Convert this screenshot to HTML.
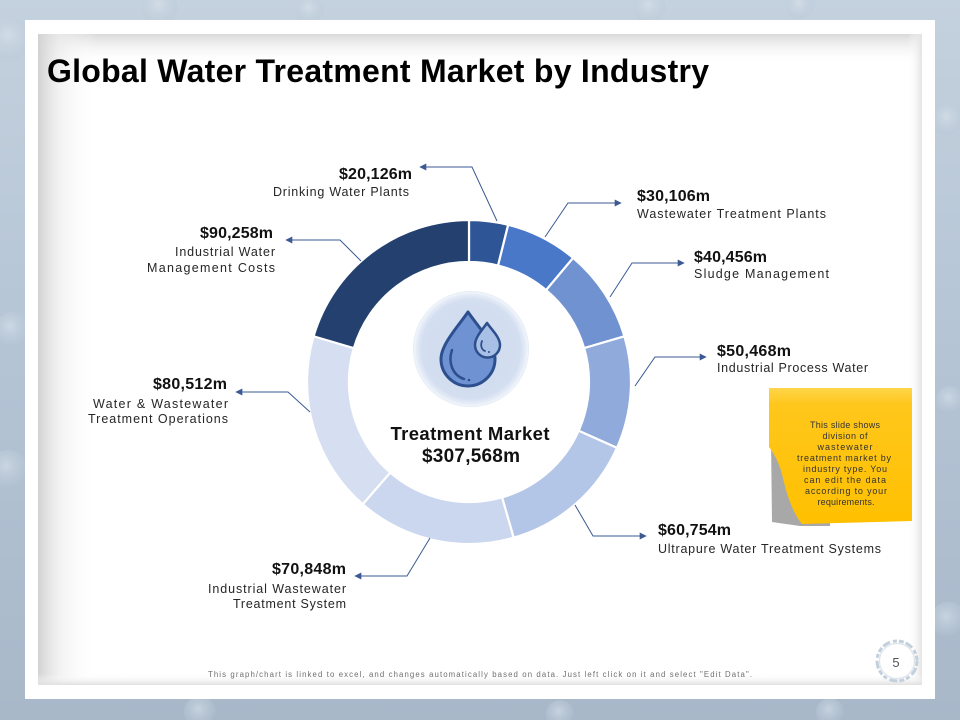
<!DOCTYPE html>
<html><head><meta charset="utf-8"><style>
html,body{margin:0;padding:0;width:960px;height:720px;overflow:hidden;background:#b5c5d6}
svg{display:block}
text{font-family:"Liberation Sans",Arial,sans-serif}
</style></head><body>
<svg width="960" height="720" viewBox="0 0 960 720" xmlns="http://www.w3.org/2000/svg">
<defs>
<linearGradient id="bg" x1="0" y1="0" x2="0" y2="1">
<stop offset="0" stop-color="#c4d1de"/><stop offset="0.5" stop-color="#b4c4d5"/><stop offset="1" stop-color="#a8b8c9"/>
</linearGradient>
<radialGradient id="bub" cx="0.45" cy="0.4" r="0.6">
<stop offset="0" stop-color="#dbe4ed" stop-opacity="0.6"/><stop offset="0.8" stop-color="#bccbd9" stop-opacity="0.3"/><stop offset="1" stop-color="#a9bacb" stop-opacity="0"/>
</radialGradient>
<linearGradient id="gTop" x1="0" y1="0" x2="0" y2="1">
<stop offset="0" stop-color="#d9d9d9"/><stop offset="1" stop-color="#ffffff" stop-opacity="0"/>
</linearGradient>
<linearGradient id="gLeft" x1="0" y1="0" x2="1" y2="0">
<stop offset="0" stop-color="#d2d2d2"/><stop offset="0.35" stop-color="#ececec" stop-opacity="0.7"/><stop offset="1" stop-color="#ffffff" stop-opacity="0"/>
</linearGradient>
<linearGradient id="gRight" x1="0" y1="0" x2="1" y2="0">
<stop offset="0" stop-color="#ffffff" stop-opacity="0"/><stop offset="1" stop-color="#e3e3e3"/>
</linearGradient>
<linearGradient id="gBot" x1="0" y1="0" x2="0" y2="1">
<stop offset="0" stop-color="#ffffff" stop-opacity="0"/><stop offset="1" stop-color="#e0e0e0"/>
</linearGradient>
<radialGradient id="icon" cx="0.5" cy="0.5" r="0.5">
<stop offset="0" stop-color="#cfdbef"/><stop offset="0.85" stop-color="#d3def0"/><stop offset="0.95" stop-color="#e8eef8"/><stop offset="1" stop-color="#dfe7f4"/>
</radialGradient>
<linearGradient id="yel" x1="0" y1="0" x2="0" y2="1">
<stop offset="0" stop-color="#ffd54a"/><stop offset="0.12" stop-color="#ffc71c"/><stop offset="1" stop-color="#ffc000"/>
</linearGradient>
<marker id="ah" viewBox="0 0 10 10" refX="9" refY="5" markerWidth="9" markerHeight="7" markerUnits="userSpaceOnUse" orient="auto">
<path d="M0,0 L10,5 L0,10 Z" fill="#3b5a94"/>
</marker>
</defs>

<!-- background -->
<rect x="0" y="0" width="960" height="720" fill="url(#bg)"/>
<circle cx="10" cy="40" r="22" fill="url(#bub)"/>
<circle cx="12" cy="330" r="18" fill="url(#bub)"/>
<circle cx="8" cy="470" r="20" fill="url(#bub)"/>
<circle cx="160" cy="8" r="18" fill="url(#bub)"/>
<circle cx="310" cy="10" r="14" fill="url(#bub)"/>
<circle cx="650" cy="8" r="16" fill="url(#bub)"/>
<circle cx="800" cy="6" r="14" fill="url(#bub)"/>
<circle cx="948" cy="120" r="16" fill="url(#bub)"/>
<circle cx="950" cy="400" r="14" fill="url(#bub)"/>
<circle cx="948" cy="620" r="18" fill="url(#bub)"/>
<circle cx="200" cy="712" r="16" fill="url(#bub)"/>
<circle cx="560" cy="714" r="14" fill="url(#bub)"/>
<circle cx="830" cy="712" r="14" fill="url(#bub)"/>

<!-- white frame and inner panel -->
<rect x="25" y="20" width="910" height="679" fill="#ffffff"/>
<rect x="38" y="34" width="884" height="651" fill="#ffffff"/>
<rect x="38" y="34" width="884" height="30" fill="url(#gTop)"/>
<rect x="38" y="34" width="60" height="651" fill="url(#gLeft)"/>
<rect x="908" y="34" width="14" height="651" fill="url(#gRight)"/>
<rect x="38" y="674" width="884" height="11" fill="url(#gBot)"/>

<!-- title -->
<text x="47" y="82" font-size="32" font-weight="bold" fill="#000" textLength="662">Global Water Treatment Market by Industry</text>

<!-- donut -->
<g stroke="#ffffff" stroke-width="2.2" stroke-linejoin="round">
<path d="M469,220 A162,162 0 0 1 508.19,224.81 L498.03,265.56 A120,120 0 0 0 469,262 Z" fill="#2e5596"/>
<path d="M508.19,224.81 A162,162 0 0 1 573.13,257.91 L546.14,290.08 A120,120 0 0 0 498.03,265.56 Z" fill="#4a78c8"/>
<path d="M573.13,257.91 A162,162 0 0 1 624.41,336.27 L584.12,348.12 A120,120 0 0 0 546.14,290.08 Z" fill="#7192d1"/>
<path d="M624.41,336.27 A162,162 0 0 1 616.99,447.89 L578.62,430.80 A120,120 0 0 0 584.12,348.12 Z" fill="#8faadb"/>
<path d="M616.99,447.89 A162,162 0 0 1 513.65,537.73 L502.07,497.36 A120,120 0 0 0 578.62,430.80 Z" fill="#b4c6e7"/>
<path d="M513.65,537.73 A162,162 0 0 1 362.71,504.26 L390.27,472.56 A120,120 0 0 0 502.07,497.36 Z" fill="#cad7ee"/>
<path d="M362.71,504.26 A162,162 0 0 1 313.59,336.27 L353.88,348.12 A120,120 0 0 0 390.27,472.56 Z" fill="#d5dff1"/>
<path d="M313.59,336.27 A162,162 0 0 1 469,220 L469,262 A120,120 0 0 0 353.88,348.12 Z" fill="#23406f"/>
</g>

<!-- icon -->
<circle cx="471" cy="349" r="58" fill="url(#icon)"/>
<circle cx="471" cy="349" r="56.5" fill="none" stroke="#eef3fa" stroke-width="2"/>
<path d="M468,312 C460,324 441,344 441,359 A27,27 0 0 0 495,359 C495,344 476,324 468,312 Z" fill="#6f93d2" stroke="#2d4f8e" stroke-width="3" stroke-linejoin="round"/>
<path d="M452,350 C448,362 452,375 464,379" fill="none" stroke="#2d4f8e" stroke-width="2.5" stroke-linecap="round"/>
<circle cx="469" cy="380" r="1.3" fill="#2d4f8e"/>
<path d="M487,323 C483,329 475,337 475,345 A12.5,12.5 0 0 0 500,345 C500,337 491,329 487,323 Z" fill="#a9c0e6" stroke="#2d4f8e" stroke-width="2.5" stroke-linejoin="round"/>
<path d="M482,341 C480,346 482,350 485,351" fill="none" stroke="#2d4f8e" stroke-width="1.8" stroke-linecap="round"/>
<circle cx="489" cy="352" r="1" fill="#2d4f8e"/>

<!-- center text -->
<text x="470" y="440" font-size="18.5" font-weight="bold" fill="#111" text-anchor="middle" textLength="159">Treatment Market</text>
<text x="471" y="462" font-size="19" font-weight="bold" fill="#111" text-anchor="middle" textLength="98">$307,568m</text>

<!-- connector arrows -->
<g fill="none" stroke="#3b5a94" stroke-width="1" marker-end="url(#ah)">
<polyline points="497,221 472,167 420,167"/>
<polyline points="361,261 340,240 286,240"/>
<polyline points="545,237 568,203 621,203"/>
<polyline points="610,297 632,263 684,263"/>
<polyline points="635,386 655,357 706,357"/>
<polyline points="310,412 288,392 236,392"/>
<polyline points="430,538 407,576 355,576"/>
<polyline points="575,505 593,536 646,536"/>
</g>

<!-- labels -->
<g font-size="16" font-weight="bold" fill="#111">
<text x="412" y="179" text-anchor="end" textLength="73">$20,126m</text>
<text x="273" y="238" text-anchor="end" textLength="73">$90,258m</text>
<text x="637" y="201" textLength="73">$30,106m</text>
<text x="694" y="262" textLength="73">$40,456m</text>
<text x="717" y="356" textLength="74">$50,468m</text>
<text x="227" y="389" text-anchor="end" textLength="74">$80,512m</text>
<text x="346" y="574" text-anchor="end" textLength="74">$70,848m</text>
<text x="658" y="535" textLength="73">$60,754m</text>
</g>
<g font-size="12.5" fill="#262626">
<text x="409" y="196" text-anchor="end" textLength="136">Drinking Water Plants</text>
<text x="275" y="256" text-anchor="end" textLength="100">Industrial Water</text>
<text x="275" y="272" text-anchor="end" textLength="128">Management  Costs</text>
<text x="637" y="218" textLength="189">Wastewater Treatment  Plants</text>
<text x="694" y="278" textLength="135">Sludge Management</text>
<text x="717" y="372" textLength="151">Industrial Process Water</text>
<text x="228" y="408" text-anchor="end" textLength="135">Water &amp; Wastewater</text>
<text x="228" y="423" text-anchor="end" textLength="140">Treatment Operations</text>
<text x="346" y="593" text-anchor="end" textLength="138">Industrial Wastewater</text>
<text x="346" y="608" text-anchor="end" textLength="113">Treatment System</text>
<text x="658" y="553" textLength="223">Ultrapure  Water Treatment  Systems</text>
</g>

<!-- sticky note -->
<path d="M771,440 L772,522 L800,526 L830,526 L830,470 Z" fill="#a8a8a8"/>
<path d="M769,388 L912,388 L912,521 L802,524 C792,512 786,492 782,474 C779,462 773,452 769,447 Z" fill="url(#yel)"/>
<g font-size="9" fill="#333" text-anchor="middle">
<text x="845" y="428" textLength="70">This  slide shows</text>
<text x="845" y="439" textLength="45">division of</text>
<text x="845" y="450" textLength="55">wastewater</text>
<text x="844" y="461" textLength="94">treatment market by</text>
<text x="845" y="472" textLength="84">industry type. You</text>
<text x="845" y="483" textLength="82">can  edit the data</text>
<text x="846" y="494" textLength="82">according  to your</text>
<text x="846" y="505" textLength="57">requirements.</text>
</g>

<!-- footer -->
<text x="480" y="677" font-size="7.8" fill="#6f6f6f" text-anchor="middle" textLength="544">This graph/chart is linked to excel, and changes automatically based on data. Just left click on it and select "Edit Data".</text>

<!-- page number -->
<circle cx="897" cy="661" r="20" fill="none" stroke="#c3d0dc" stroke-width="3" stroke-dasharray="5 2 8 3 4 2"/>
<circle cx="897" cy="661" r="17.5" fill="none" stroke="#dbe4ec" stroke-width="1.2"/>
<text x="896" y="667" font-size="13" fill="#555" text-anchor="middle">5</text>
</svg>
</body></html>
